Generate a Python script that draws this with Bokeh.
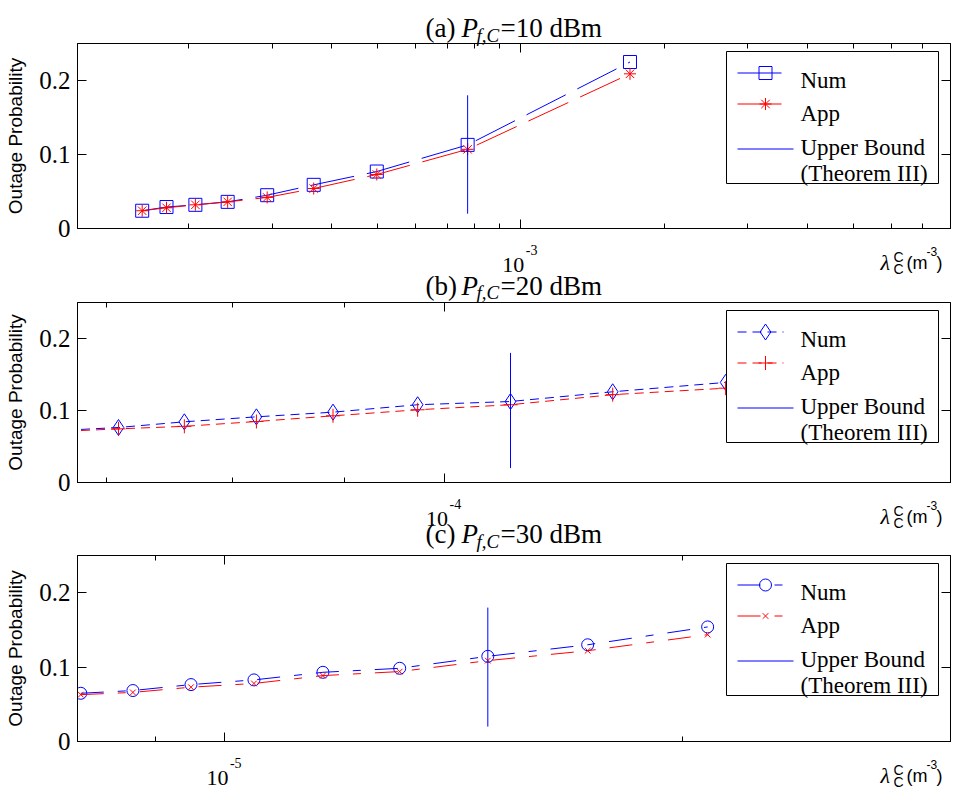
import math
from bokeh.plotting import figure
from bokeh.models import (Range1d, FixedTicker, LogAxis, LinearAxis,
                          NumeralTickFormatter, CustomJSTickFormatter)
from bokeh.core.properties import value
from bokeh.layouts import column
from bokeh.embed import file_html
from bokeh.resources import INLINE

# ---------------- data ----------------
a_lambda = [1.60e-4, 1.80e-4, 2.07e-4, 2.42e-4, 2.93e-4, 3.67e-4, 4.98e-4, 7.73e-4, 1.696e-3]
a_num = [0.024, 0.029, 0.032, 0.036, 0.045, 0.059, 0.077, 0.113, 0.225]
a_app = [0.024, 0.028, 0.032, 0.036, 0.042, 0.054, 0.073, 0.107, 0.209]

b_lambda = [6.5e-5, 7.09e-5, 7.60e-5, 8.20e-5, 8.89e-5, 9.72e-5, 1.072e-4, 1.194e-4, 1.345e-4]
b_num = [0.0705, 0.0764, 0.0843, 0.0912, 0.0977, 0.108, 0.1125, 0.126, 0.139]
b_app = [0.0694, 0.0745, 0.078, 0.0847, 0.0926, 0.101, 0.108, 0.122, 0.131]

c_lambda = [8.04e-6, 8.70e-6, 9.50e-6, 1.045e-5, 1.16e-5, 1.303e-5, 1.489e-5, 1.732e-5, 2.077e-5]
c_num = [0.0648, 0.0685, 0.0765, 0.0828, 0.093, 0.0984, 0.1145, 0.130, 0.154]
c_app = [0.063, 0.066, 0.073, 0.078, 0.0886, 0.094, 0.1087, 0.122, 0.1436]

# upper bound (Theorem III) vertical bars
a_bound_x = [7.73e-4, 7.73e-4]
b_bound_x = [1.072e-4, 1.072e-4]
c_bound_x = [1.489e-5, 1.489e-5]
bound_y = [0.02, 0.18]

# axis limits and ticks
a_xlim = (1.17e-4, 8.0e-3)
b_xlim = (6.79e-5, 1.705e-4)
c_xlim = (8.0e-6, 3.0e-5)
y_lim = (0, 0.25)
y_ticks = [0, 0.1, 0.2]
a_major = [1e-3]
a_minor = [2e-4, 3e-4, 4e-4, 5e-4, 6e-4, 7e-4, 8e-4, 9e-4, 2e-3, 3e-3, 4e-3, 5e-3, 6e-3, 7e-3]
b_major = [1e-4]
b_minor = [7e-5, 8e-5, 9e-5]
c_major = [1e-5]
c_minor = [9e-6, 2e-5, 3e-5]
a_exp = ["-3"]
b_exp = ["-4"]
c_exp = ["-5"]
titles = [("(a) ", "=10 dBm"), ("(b) ", "=20 dBm"), ("(c) ", "=30 dBm")]
legend_labels = ["Num", "App", "Upper Bound", "(Theorem III)"]

SERIF = "Liberation Serif"
SANS = "Liberation Sans"
BLUE = "#0000ff"
RED = "#ff0000"
W = 958
FL, FW = 77, 873


def to_data(spec, px, py):
    lx0, lx1 = math.log10(spec["xr"][0]), math.log10(spec["xr"][1])
    x = 10 ** (lx0 + (px - FL) / FW * (lx1 - lx0))
    y0, y1 = y_lim
    y = y1 - (py - spec["top"]) / spec["fh"] * (y1 - y0)
    return x, y


def put(p, spec, px, py, text, font=SERIF, size=27, style="normal", align="left",
        xval=None, x_offset=0):
    x, y = to_data(spec, px, py)
    if xval is not None:
        x = xval
    p.text(x=[x], y=[y], text=[text], text_font=value(font), text_font_size=f"{size}px",
           text_font_style=style, text_align=align, text_baseline="alphabetic",
           text_color="black", x_offset=x_offset, level="overlay")


def title(p, spec, base, idx, sub_drop=8):
    pre, post = titles[idx]
    put(p, spec, 425, base, pre, size=27)
    put(p, spec, 461, base, "P", size=27, style="italic")
    put(p, spec, 476, base + sub_drop, "f,C", size=19, style="italic")
    put(p, spec, 500, base, post, size=27)


def legend_box(p, spec, dash, num_marker, num_size, app_marker, app_size):
    # drawn after the data at the same (glyph) level, so it covers the curves
    t = spec["top"]
    lx, ty = to_data(spec, 726, t + 8)
    rx, by = to_data(spec, 938, t + 140)
    p.quad(left=[lx], right=[rx], top=[ty], bottom=[by], fill_color="white",
           line_color="black", line_width=1)
    rows = [(t + 29.5, BLUE, dash, num_marker, num_size, 783),
            (t + 60.5, RED, dash, app_marker, app_size, 783),
            (t + 105.5, BLUE, "solid", None, 0, 793)]
    for py, col, dsh, mk, ms, xend in rows:
        xa, yy = to_data(spec, 737, py)
        xb, _ = to_data(spec, xend, py)
        p.line(x=[xa, xb], y=[yy, yy], line_color=col, line_width=1.2, line_dash=dsh)
        if mk is not None:
            xm, _ = to_data(spec, 765, py)
            p.scatter(x=[xm], y=[yy], marker=mk, size=ms, line_color=col,
                      fill_color=None, line_width=1)
    for lab, off in zip(legend_labels, [37, 70, 104, 130]):
        put(p, spec, 800, t + off, lab, size=23)


def make_panel(spec, xs, num, app, bx, major, minor, exps, num_marker, num_size,
               app_marker, app_size, dash):
    p = figure(width=W, height=spec["h"], x_axis_type="log",
               x_range=Range1d(*spec["xr"]), y_range=Range1d(*y_lim),
               output_backend="svg", toolbar_location=None,
               min_border_left=FL, min_border_right=W - FL - FW,
               min_border_top=spec["top"], min_border_bottom=spec["h"] - spec["top"] - spec["fh"])
    p.xgrid.visible = False
    p.ygrid.visible = False
    p.outline_line_color = "black"
    p.outline_line_width = 1
    p.background_fill_color = "white"
    p.border_fill_color = "white"

    blank = CustomJSTickFormatter(code="return ''")
    xt = FixedTicker(ticks=major, minor_ticks=minor)
    yt = FixedTicker(ticks=y_ticks, minor_ticks=[])

    xb = p.xaxis[0]
    xb.ticker = xt
    xb.formatter = blank
    xa = LogAxis(ticker=xt, formatter=blank)
    p.add_layout(xa, "above")
    yl = p.yaxis[0]
    yl.ticker = yt
    yl.formatter = NumeralTickFormatter(format="0.[0]")
    yl.axis_label = "Outage Probability"
    yl.axis_label_text_font = SANS
    yl.axis_label_text_font_size = "19px"
    yl.axis_label_text_font_style = "normal"
    yl.axis_label_text_color = "black"
    yl.axis_label_standoff = 10
    yl.major_label_text_font = SERIF
    yl.major_label_text_font_size = "25px"
    yl.major_label_text_color = "black"
    yl.major_label_standoff = 7
    yr = LinearAxis(ticker=yt, formatter=blank)
    p.add_layout(yr, "right")
    for ax in (xb, xa, yl, yr):
        ax.major_tick_in = 9
        ax.major_tick_out = 0
        ax.minor_tick_in = 5
        ax.minor_tick_out = 0
        ax.axis_line_color = "black"
        ax.major_tick_line_color = "black"
        ax.minor_tick_line_color = "black"
    for ax in (xa, yr, xb):
        ax.major_label_standoff = 0

    p.line(xs, num, line_color=BLUE, line_width=1, line_dash=dash)
    p.scatter(xs, num, marker=num_marker, size=num_size, line_color=BLUE,
              fill_color=None, line_width=1)
    p.line(xs, app, line_color=RED, line_width=1, line_dash=dash)
    p.scatter(xs, app, marker=app_marker, size=app_size, line_color=RED,
              fill_color=None, line_width=1)
    p.line(bx, bound_y, line_color=BLUE, line_width=1)

    legend_box(p, spec, dash, num_marker, num_size, app_marker, app_size)

    # decade tick labels 10^n
    fb = spec["top"] + spec["fh"]
    for m, e in zip(major, exps):
        put(p, spec, 0, fb + 36, "10", size=22, align="center", xval=m, x_offset=-7.5)
        put(p, spec, 0, fb + 21, e, size=14, align="left", xval=m, x_offset=5)

    # x-axis label  lambda_C^C (m^-3)
    put(p, spec, 880, fb + 34, "λ", font=SERIF, size=22, style="italic")
    put(p, spec, 893, fb + 28, "C", font=SANS, size=14)
    put(p, spec, 893, fb + 40, "C", font=SANS, size=14)
    put(p, spec, 906, fb + 34, "(m", font=SANS, size=18)
    put(p, spec, 926, fb + 23, "-3", font=SANS, size=12)
    put(p, spec, 936, fb + 34, ")", font=SANS, size=18)
    return p


spec_a = dict(h=302, top=43, fh=185, xr=a_xlim)
spec_b = dict(h=251, top=0, fh=180, xr=b_xlim)
spec_c = dict(h=237, top=2, fh=186, xr=c_xlim)

pa = make_panel(spec_a, a_lambda, a_num, a_app, a_bound_x, a_major, a_minor, a_exp,
                "square", 13, "asterisk", 12, "44 13")
pb = make_panel(spec_b, b_lambda, b_num, b_app, b_bound_x, b_major, b_minor, b_exp,
                "diamond", 16, "cross", 14, "9 6")
pc = make_panel(spec_c, c_lambda, c_num, c_app, c_bound_x, c_major, c_minor, c_exp,
                "circle", 12, "x", 8, "23 14 8 14")

# panel titles (each drawn in the canvas that holds its pixel rows)
title(pa, spec_a, 27, 0)
title(pa, spec_a, 285, 1, sub_drop=7)
title(pb, spec_b, 533 - 302, 2)

layout = column(pa, pb, pc, spacing=0)
open("out.html", "w").write(file_html(layout, INLINE))
